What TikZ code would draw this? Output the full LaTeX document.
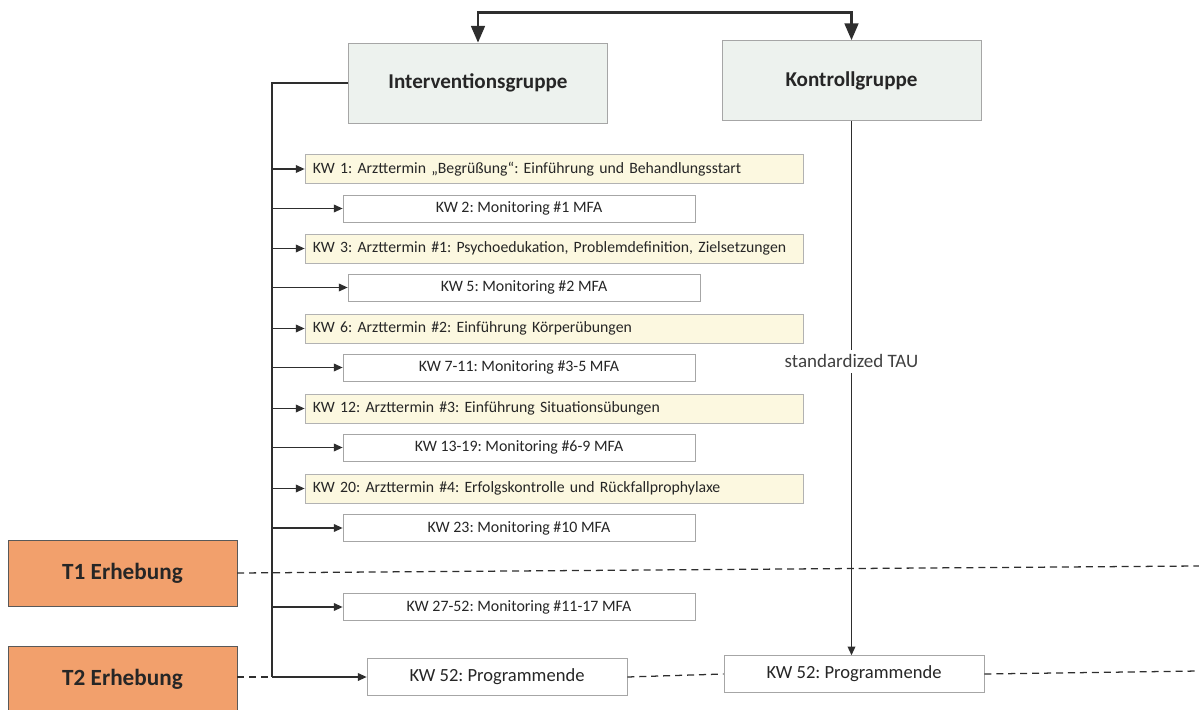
\documentclass[tikz,border=0pt]{standalone}
\usepackage{fontspec}
\setmainfont{Carlito}
\usepackage{xcolor}
\usetikzlibrary{arrows.meta,positioning}
\definecolor{grpfill}{HTML}{EDF2EE}
\definecolor{termfill}{HTML}{FCF8E0}
\definecolor{erhfill}{HTML}{F2A06C}
\definecolor{linegray}{HTML}{2E2E2E}
\frenchspacing

\begin{document}
\begin{tikzpicture}[x=0.025cm, y=-0.025cm,
  grp/.style={draw=gray!70, fill=grpfill, text=black!85, font=\bfseries\fontsize{15}{18}\selectfont, minimum width=6.48cm, minimum height=2cm, inner sep=2pt},
  term/.style={draw=gray!60, fill=termfill, text=black!85, font=\fontsize{11.2}{13}\selectfont, text width=12.05cm, align=left, inner xsep=0.2cm, minimum height=0.72cm},
  mon/.style={draw=gray!70, fill=white, text=black!85, font=\fontsize{11.3}{13}\selectfont, minimum width=8.8cm, minimum height=0.68cm},
  ende/.style={draw=gray!70, fill=white, text=black!85, font=\fontsize{13.2}{15}\selectfont, minimum width=6.5cm, minimum height=0.92cm},
  erh/.style={draw=gray!70!black, fill=erhfill, text=black!85, font=\bfseries\fontsize{16.5}{19}\selectfont, minimum width=5.72cm, minimum height=1.64cm},
  arr/.style={-{Triangle[length=2.2mm, width=1.9mm]}, draw=linegray, line width=1.1pt},
  dblarr/.style={{Triangle[length=4.2mm, width=3.4mm]}-{Triangle[length=4.2mm, width=3.4mm]}, draw=linegray, line width=2pt},
  dashline/.style={draw=linegray, line width=0.9pt, dash pattern=on 5pt off 3.5pt}]
  \useasboundingbox (0,0) rectangle (1199,710);

  % Gruppen
  \node[grp] (ig) at (478,83) {Interventionsgruppe};
  \node[grp] (kg) at (851.5,80.5) {Kontrollgruppe};
  \draw[dblarr] (ig.north) -- ++(0,-30) -| (kg.north);

  % Termine und Monitoring
  \node[term] (kw1) at (554,169) {KW 1: Arzttermin „Begrüßung“: Einführung und Behandlungsstart};
  \node[mon] (kw2) at (519,208.5) {KW 2: Monitoring \#1 MFA};
  \node[term] (kw3) at (554,248.5) {KW 3: Arzttermin \#1: Psychoedukation, Problemdefinition, Zielsetzungen};
  \node[mon] (kw5) at (524,287.5) {KW 5: Monitoring \#2 MFA};
  \node[term] (kw6) at (554,328.5) {KW 6: Arzttermin \#2: Einführung Körperübungen};
  \node[mon] (kw7) at (519,367.5) {KW 7-11: Monitoring \#3-5 MFA};
  \node[term] (kw12) at (554,408.5) {KW 12: Arzttermin \#3: Einführung Situationsübungen};
  \node[mon] (kw13) at (519,447.5) {KW 13-19: Monitoring \#6-9 MFA};
  \node[term] (kw20) at (554,488.5) {KW 20: Arzttermin \#4: Erfolgskontrolle und Rückfallprophylaxe};
  \node[mon] (kw23) at (519,528) {KW 23: Monitoring \#10 MFA};
  \node[mon] (kw27) at (519,607) {KW 27-52: Monitoring \#11-17 MFA};

  % Programmende
  \node[ende] (pe1) at (497,677) {KW 52: Programmende};
  \node[ende] (pe2) at (854,674) {KW 52: Programmende};

  % Erhebungen
  \node[erh] (t1) at (122.5,573) {T1 Erhebung};
  \node[erh] (t2) at (122.5,679) {T2 Erhebung};

  % Strang Interventionsgruppe
  \coordinate (spine) at (272,83);
  \coordinate (spineend) at (272,677);
  \draw[linegray, line width=1.1pt] (ig.west) -- (spine) -- (spineend);
  \draw[arr] (spineend) -- (pe1.west);
  \draw[arr] (spine |- kw1.west) -- (kw1.west);
  \draw[arr] (spine |- kw2.west) -- (kw2.west);
  \draw[arr] (spine |- kw3.west) -- (kw3.west);
  \draw[arr] (spine |- kw5.west) -- (kw5.west);
  \draw[arr] (spine |- kw6.west) -- (kw6.west);
  \draw[arr] (spine |- kw7.west) -- (kw7.west);
  \draw[arr] (spine |- kw12.west) -- (kw12.west);
  \draw[arr] (spine |- kw13.west) -- (kw13.west);
  \draw[arr] (spine |- kw20.west) -- (kw20.west);
  \draw[arr] (spine |- kw23.west) -- (kw23.west);
  \draw[arr] (spine |- kw27.west) -- (kw27.west);

  % Kontrollgruppe
  \draw[arr] (kg.south) -- node[pos=0.45, fill=white, text=black!75, font=\fontsize{13.5}{15}\selectfont] (tau) {standardized TAU} (kg.south |- pe2.north);

  % Messzeitpunkte
  \coordinate (t1end) at (1199,566);
  \coordinate (t2end) at (1199,671);
  \draw[dashline] (t1.east) -- (t1end);
  \draw[dashline] (t2.east |- spineend) -- (spineend);
  \draw[dashline] (pe1.east) -- (pe2.west);
  \draw[dashline] (pe2.east) -- (t2end);
\end{tikzpicture}
\end{document}
